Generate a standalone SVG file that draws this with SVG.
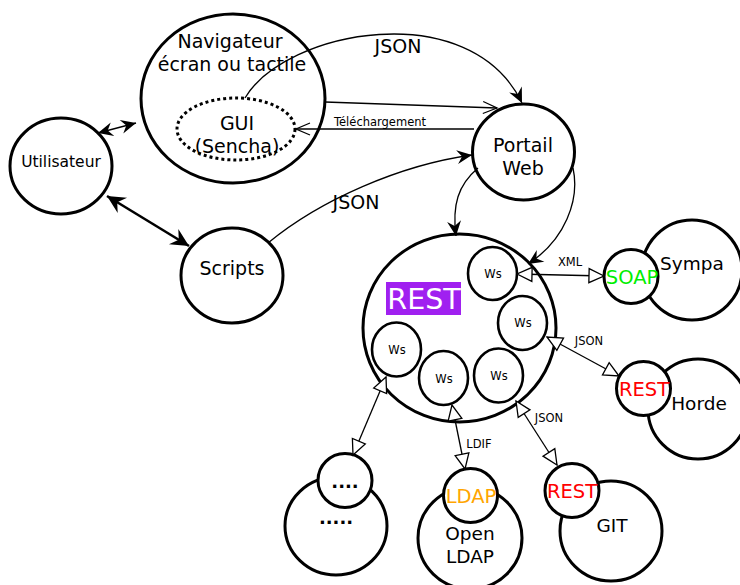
<svg xmlns="http://www.w3.org/2000/svg" width="740" height="585" viewBox="0 0 740 585">
<style>
text{font-family:"DejaVu Sans","Liberation Sans",sans-serif;text-anchor:middle;fill:#000}
.node{fill:#fff;stroke:#000;stroke-width:3}
.ws{fill:#fff;stroke:#000;stroke-width:2.6}
.c{fill:none;stroke:#000;stroke-width:1.3}
.t19{font-size:19px}
.t18{font-size:18.5px}
.t11{font-size:11.5px}
.lbl{font-size:19.5px}
.dots{font-size:18px;font-weight:bold}
</style>
<defs>
<marker id="fa" markerUnits="userSpaceOnUse" viewBox="-16 -8 18 16" refX="0" refY="0" markerWidth="18" markerHeight="16" orient="auto-start-reverse">
<path d="M0,0 L-15,-7 L-10,0 L-15,7 Z" fill="#000"/>
</marker>
<marker id="fb" markerUnits="userSpaceOnUse" viewBox="-20 -10 22 20" refX="0" refY="0" markerWidth="22" markerHeight="20" orient="auto-start-reverse">
<path d="M0,0 L-18,-9 L-12,0 L-18,9 Z" fill="#000"/>
</marker>
<marker id="tri" markerUnits="userSpaceOnUse" viewBox="-17 -9 19 18" refX="0" refY="0" markerWidth="19" markerHeight="18" orient="auto-start-reverse">
<path d="M0,0 L-15,-7 L-15,7 Z" fill="#fff" stroke="#000" stroke-width="1.3"/>
</marker>
<marker id="v" markerUnits="userSpaceOnUse" viewBox="-16 -8 18 16" refX="0" refY="0" markerWidth="18" markerHeight="16" orient="auto">
<path d="M-14,-6 L0,0 L-14,6" fill="none" stroke="#000" stroke-width="1.3"/>
</marker>
</defs>

<g id="sympa"><circle class="node" cx="692" cy="270" r="50"/><text class="t18" x="692" y="270">Sympa</text></g>
<g id="horde"><circle class="node" cx="698" cy="409" r="50"/><text class="t18" x="699" y="410">Horde</text></g>
<g id="other"><ellipse class="node" cx="336" cy="526" rx="51" ry="49"/><text class="dots" x="336" y="524">.....</text></g>
<g id="openldap"><ellipse class="node" cx="470" cy="538" rx="52" ry="51"/><text class="t18" x="470" y="540">Open</text><text class="t18" x="470" y="563">LDAP</text></g>
<g id="git"><ellipse class="node" cx="611" cy="531" rx="51" ry="50"/><text class="t18" x="612" y="532">GIT</text></g>

<g id="soap"><circle class="node" cx="631" cy="276.5" r="27"/><text class="lbl" x="632" y="283.5" style="fill:#00ee00">SOAP</text></g>
<g id="horde-rest"><circle class="node" cx="643.5" cy="388.5" r="27"/><text class="lbl" x="644" y="395.5" style="fill:#ff0000">REST</text></g>
<g id="other-small"><circle class="node" cx="345" cy="480.5" r="27"/><text class="dots" x="345" y="488">....</text></g>
<g id="ldap"><circle class="node" cx="470.5" cy="495.5" r="27"/><text class="lbl" x="471" y="502.5" style="fill:#ffa500">LDAP</text></g>
<g id="git-rest"><circle class="node" cx="572" cy="490.5" r="27"/><text class="lbl" x="572" y="497.5" style="fill:#ff0000">REST</text></g>

<g id="utilisateur"><ellipse class="node" cx="61" cy="166" rx="51" ry="48"/><text x="61" y="167" style="font-size:15.5px">Utilisateur</text></g>
<g id="navigateur"><ellipse class="node" cx="233" cy="98.5" rx="92" ry="84.5"/><text class="t19" x="230" y="48">Navigateur</text><text class="t19" x="232" y="71">écran ou tactile</text></g>
<g id="gui"><ellipse cx="236" cy="129" rx="59" ry="31" fill="none" stroke="#000" stroke-width="3" stroke-dasharray="3,3"/><text class="t19" x="237" y="130">GUI</text><text class="t19" x="237" y="153">(Sencha)</text></g>
<g id="portail"><ellipse class="node" cx="523.5" cy="152" rx="51" ry="48"/><text class="t19" x="523" y="152">Portail</text><text class="t19" x="523" y="175">Web</text></g>
<g id="scripts"><ellipse class="node" cx="232" cy="275.5" rx="51" ry="47.5"/><text class="t19" x="232" y="275">Scripts</text></g>

<g id="rest">
<ellipse class="node" cx="459.5" cy="328" rx="96.5" ry="94"/>
<rect x="386" y="282" width="75" height="33" fill="#a020f0"/>
<text x="424" y="309" style="font-size:28.5px;fill:#fff">REST</text>
</g>
<g id="ws1"><ellipse class="ws" cx="492.5" cy="273.5" rx="24.5" ry="26.5"/><text class="t11" x="493" y="278">Ws</text></g>
<g id="ws2"><ellipse class="ws" cx="522.5" cy="323" rx="24.5" ry="27"/><text class="t11" x="523" y="327">Ws</text></g>
<g id="ws3"><ellipse class="ws" cx="396.5" cy="349.5" rx="24.5" ry="27"/><text class="t11" x="397" y="354">Ws</text></g>
<g id="ws4"><ellipse class="ws" cx="443.5" cy="378" rx="24.5" ry="27"/><text class="t11" x="444" y="383">Ws</text></g>
<g id="ws5"><ellipse class="ws" cx="498.5" cy="375.5" rx="24.5" ry="27"/><text class="t11" x="499" y="380">Ws</text></g>

<g id="connectors">
<path class="c" d="M98,133 L136,123" marker-start="url(#fa)" marker-end="url(#fa)"/>
<path class="c" d="M107,196 L189,246" style="stroke-width:2.6" marker-start="url(#fb)" marker-end="url(#fb)"/>
<path class="c" d="M245,98 C285,30 470,-5 522,103" marker-end="url(#fa)"/>
<path class="c" d="M325,102 L497,108" marker-end="url(#v)"/>
<path class="c" d="M474,129 L296,129" marker-end="url(#v)"/>
<path class="c" d="M268,243 C320,200 400,165 472,155" marker-end="url(#fa)"/>
<path class="c" d="M478,168 C458,185 452,205 456,236" marker-end="url(#fa)"/>
<path class="c" d="M573,168 C580,200 565,240 528,264" marker-end="url(#fa)"/>
<path class="c" d="M517,274 L604,276" marker-start="url(#tri)" marker-end="url(#tri)"/>
<path class="c" d="M547,337 L619,376" marker-start="url(#tri)" marker-end="url(#tri)"/>
<path class="c" d="M386,377 L353,455" marker-start="url(#tri)" marker-end="url(#tri)"/>
<path class="c" d="M452,405 L465,469" marker-start="url(#tri)" marker-end="url(#tri)"/>
<path class="c" d="M516,401 L557,465" marker-start="url(#tri)" marker-end="url(#tri)"/>
<text x="398" y="53" style="font-size:19px">JSON</text>
<text x="356" y="209" style="font-size:19px">JSON</text>
<text x="380" y="126" style="font-size:11.5px">Téléchargement</text>
<text class="t11" x="570" y="266">XML</text>
<text class="t11" x="589" y="345">JSON</text>
<text class="t11" x="549" y="422">JSON</text>
<text class="t11" x="479" y="448">LDIF</text>
</g>
</svg>
